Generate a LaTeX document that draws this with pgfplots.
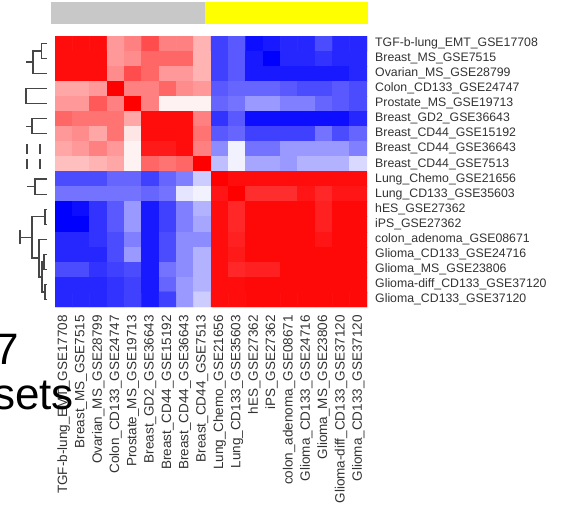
\documentclass[border=0pt]{standalone}
\usepackage{pgfplots}
\pgfplotsset{compat=1.18}
\usepackage{fontspec}
\setmainfont{Liberation Sans}
\definecolor{lab}{RGB}{50,50,50}
\definecolor{dend}{RGB}{70,70,70}
\definecolor{bargray}{RGB}{200,200,200}
\definecolor{baryellow}{RGB}{255,255,0}
\pgfplotsset{dl/.style={dend, line width=1.2pt, mark=none, forget plot}}
\begin{document}
\begin{tikzpicture}[x=1pt,y=1pt]
\useasboundingbox (0,0) rectangle (571,506);
\clip (0,0) rectangle (571,506);
% ---------------- heatmap ----------------
\begin{axis}[at={(55pt,199pt)}, anchor=south west, width=312pt, height=271pt, scale only axis,
  xmin=-0.5, xmax=17.5, ymin=-0.5, ymax=17.5, y dir=reverse,
  axis line style={draw=none}, major tick length=0pt,
  colormap={bwr}{rgb255=(0,0,255) rgb255=(255,255,255) rgb255=(255,0,0)},
  point meta min=-1, point meta max=1,
  xtick={0,...,17}, ytick={0,...,17}, yticklabel pos=right,
  xticklabels={TGF-b-lung\_EMT\_GSE17708, Breast\_MS\_GSE7515, Ovarian\_MS\_GSE28799, Colon\_CD133\_GSE24747, Prostate\_MS\_GSE19713, Breast\_GD2\_GSE36643, Breast\_CD44\_GSE15192, Breast\_CD44\_GSE36643, Breast\_CD44\_GSE7513, Lung\_Chemo\_GSE21656, Lung\_CD133\_GSE35603, hES\_GSE27362, iPS\_GSE27362, colon\_adenoma\_GSE08671, Glioma\_CD133\_GSE24716, Glioma\_MS\_GSE23806, Glioma-diff\_CD133\_GSE37120, Glioma\_CD133\_GSE37120},
  yticklabels={TGF-b-lung\_EMT\_GSE17708, Breast\_MS\_GSE7515, Ovarian\_MS\_GSE28799, Colon\_CD133\_GSE24747, Prostate\_MS\_GSE19713, Breast\_GD2\_GSE36643, Breast\_CD44\_GSE15192, Breast\_CD44\_GSE36643, Breast\_CD44\_GSE7513, Lung\_Chemo\_GSE21656, Lung\_CD133\_GSE35603, hES\_GSE27362, iPS\_GSE27362, colon\_adenoma\_GSE08671, Glioma\_CD133\_GSE24716, Glioma\_MS\_GSE23806, Glioma-diff\_CD133\_GSE37120, Glioma\_CD133\_GSE37120},
  xticklabel style={rotate=90, anchor=east, inner sep=0pt, font=\fontsize{13.5}{14}\selectfont, text=lab},
  yticklabel style={anchor=west, inner sep=0pt, font=\fontsize{12.3}{14}\selectfont, text=lab},
  xticklabel shift=8pt, yticklabel shift=8pt,
]
\addplot[matrix plot*, mesh/cols=18, mesh/rows=18, point meta=explicit] coordinates {
(0,0)[0.95] (1,0)[0.95] (2,0)[0.95] (3,0)[0.4] (4,0)[0.5] (5,0)[0.7] (6,0)[0.5] (7,0)[0.5] (8,0)[0.3] (9,0)[-0.75] (10,0)[-0.65] (11,0)[-0.95] (12,0)[-0.9] (13,0)[-0.85] (14,0)[-0.85] (15,0)[-0.7] (16,0)[-0.85] (17,0)[-0.85]
(0,1)[0.95] (1,1)[0.95] (2,1)[0.95] (3,1)[0.4] (4,1)[0.45] (5,1)[0.6] (6,1)[0.6] (7,1)[0.6] (8,1)[0.3] (9,1)[-0.75] (10,1)[-0.65] (11,1)[-0.9] (12,1)[-1] (13,1)[-0.85] (14,1)[-0.85] (15,1)[-0.8] (16,1)[-0.85] (17,1)[-0.85]
(0,2)[0.95] (1,2)[0.95] (2,2)[0.95] (3,2)[0.45] (4,2)[0.7] (5,2)[0.6] (6,2)[0.4] (7,2)[0.4] (8,2)[0.3] (9,2)[-0.75] (10,2)[-0.65] (11,2)[-0.9] (12,2)[-0.9] (13,2)[-0.9] (14,2)[-0.9] (15,2)[-0.9] (16,2)[-0.9] (17,2)[-0.85]
(0,3)[0.35] (1,3)[0.35] (2,3)[0.4] (3,3)[1] (4,3)[0.5] (5,3)[0.5] (6,3)[0.6] (7,3)[0.45] (8,3)[0.4] (9,3)[-0.65] (10,3)[-0.6] (11,3)[-0.6] (12,3)[-0.6] (13,3)[-0.65] (14,3)[-0.7] (15,3)[-0.7] (16,3)[-0.65] (17,3)[-0.7]
(0,4)[0.4] (1,4)[0.4] (2,4)[0.65] (3,4)[0.5] (4,4)[1] (5,4)[0.5] (6,4)[0.05] (7,4)[0.05] (8,4)[0.05] (9,4)[-0.6] (10,4)[-0.55] (11,4)[-0.4] (12,4)[-0.4] (13,4)[-0.5] (14,4)[-0.5] (15,4)[-0.6] (16,4)[-0.65] (17,4)[-0.7]
(0,5)[0.6] (1,5)[0.55] (2,5)[0.55] (3,5)[0.55] (4,5)[0.35] (5,5)[0.95] (6,5)[0.95] (7,5)[0.95] (8,5)[0.5] (9,5)[-0.8] (10,5)[-0.65] (11,5)[-0.95] (12,5)[-0.95] (13,5)[-0.95] (14,5)[-0.95] (15,5)[-0.95] (16,5)[-0.95] (17,5)[-0.85]
(0,6)[0.4] (1,6)[0.45] (2,6)[0.35] (3,6)[0.55] (4,6)[0.1] (5,6)[0.95] (6,6)[0.95] (7,6)[0.95] (8,6)[0.55] (9,6)[-0.65] (10,6)[-0.6] (11,6)[-0.75] (12,6)[-0.75] (13,6)[-0.75] (14,6)[-0.75] (15,6)[-0.55] (16,6)[-0.7] (17,6)[-0.6]
(0,7)[0.35] (1,7)[0.4] (2,7)[0.5] (3,7)[0.4] (4,7)[0.05] (5,7)[0.9] (6,7)[0.9] (7,7)[0.95] (8,7)[0.5] (9,7)[-0.45] (10,7)[-0.05] (11,7)[-0.55] (12,7)[-0.55] (13,7)[-0.4] (14,7)[-0.4] (15,7)[-0.4] (16,7)[-0.4] (17,7)[-0.5]
(0,8)[0.25] (1,8)[0.25] (2,8)[0.3] (3,8)[0.35] (4,8)[0.05] (5,8)[0.6] (6,8)[0.55] (7,8)[0.6] (8,8)[1] (9,8)[-0.25] (10,8)[-0.05] (11,8)[-0.35] (12,8)[-0.35] (13,8)[-0.4] (14,8)[-0.3] (15,8)[-0.3] (16,8)[-0.3] (17,8)[-0.15]
(0,9)[-0.7] (1,9)[-0.7] (2,9)[-0.7] (3,9)[-0.6] (4,9)[-0.6] (5,9)[-0.75] (6,9)[-0.6] (7,9)[-0.5] (8,9)[-0.2] (9,9)[1] (10,9)[0.95] (11,9)[0.95] (12,9)[0.95] (13,9)[0.95] (14,9)[0.95] (15,9)[0.95] (16,9)[0.95] (17,9)[0.95]
(0,10)[-0.55] (1,10)[-0.55] (2,10)[-0.55] (3,10)[-0.55] (4,10)[-0.55] (5,10)[-0.6] (6,10)[-0.55] (7,10)[-0.1] (8,10)[-0.05] (9,10)[0.92] (10,10)[1] (11,10)[0.82] (12,10)[0.82] (13,10)[0.82] (14,10)[0.92] (15,10)[0.85] (16,10)[0.92] (17,10)[0.92]
(0,11)[-1] (1,11)[-0.95] (2,11)[-0.8] (3,11)[-0.65] (4,11)[-0.4] (5,11)[-0.9] (6,11)[-0.75] (7,11)[-0.5] (8,11)[-0.3] (9,11)[0.95] (10,11)[0.85] (11,11)[0.97] (12,11)[0.97] (13,11)[0.97] (14,11)[0.97] (15,11)[0.87] (16,11)[0.97] (17,11)[0.97]
(0,12)[-1] (1,12)[-1] (2,12)[-0.8] (3,12)[-0.65] (4,12)[-0.4] (5,12)[-0.9] (6,12)[-0.75] (7,12)[-0.5] (8,12)[-0.35] (9,12)[0.95] (10,12)[0.85] (11,12)[0.97] (12,12)[0.97] (13,12)[0.97] (14,12)[0.97] (15,12)[0.87] (16,12)[0.97] (17,12)[0.97]
(0,13)[-0.85] (1,13)[-0.85] (2,13)[-0.8] (3,13)[-0.7] (4,13)[-0.5] (5,13)[-0.9] (6,13)[-0.7] (7,13)[-0.45] (8,13)[-0.45] (9,13)[0.95] (10,13)[0.87] (11,13)[0.97] (12,13)[0.97] (13,13)[0.97] (14,13)[0.97] (15,13)[0.92] (16,13)[0.97] (17,13)[0.97]
(0,14)[-0.85] (1,14)[-0.85] (2,14)[-0.85] (3,14)[-0.7] (4,14)[-0.4] (5,14)[-0.9] (6,14)[-0.7] (7,14)[-0.45] (8,14)[-0.3] (9,14)[0.95] (10,14)[0.9] (11,14)[0.97] (12,14)[0.97] (13,14)[0.97] (14,14)[0.97] (15,14)[0.97] (16,14)[0.97] (17,14)[0.97]
(0,15)[-0.7] (1,15)[-0.7] (2,15)[-0.8] (3,15)[-0.75] (4,15)[-0.7] (5,15)[-0.9] (6,15)[-0.55] (7,15)[-0.45] (8,15)[-0.3] (9,15)[0.95] (10,15)[0.85] (11,15)[0.87] (12,15)[0.87] (13,15)[0.97] (14,15)[0.97] (15,15)[0.97] (16,15)[0.97] (17,15)[0.97]
(0,16)[-0.85] (1,16)[-0.85] (2,16)[-0.85] (3,16)[-0.8] (4,16)[-0.75] (5,16)[-0.9] (6,16)[-0.6] (7,16)[-0.4] (8,16)[-0.3] (9,16)[0.95] (10,16)[0.95] (11,16)[0.97] (12,16)[0.97] (13,16)[0.97] (14,16)[0.97] (15,16)[0.97] (16,16)[0.97] (17,16)[0.97]
(0,17)[-0.85] (1,17)[-0.85] (2,17)[-0.85] (3,17)[-0.8] (4,17)[-0.75] (5,17)[-0.9] (6,17)[-0.75] (7,17)[-0.4] (8,17)[-0.2] (9,17)[0.95] (10,17)[0.95] (11,17)[0.97] (12,17)[0.97] (13,17)[0.97] (14,17)[0.97] (15,17)[0.97] (16,17)[0.97] (17,17)[0.97]
};
\end{axis}
% ---------------- group colour bar ----------------
\begin{axis}[at={(51pt,482pt)}, anchor=south west, width=317pt, height=22pt, scale only axis,
  xmin=51, xmax=368, ymin=0, ymax=1, hide axis]
\addplot[fill=bargray, draw=none] coordinates {(51,1) (205,1)} \closedcycle;
\addplot[fill=baryellow, draw=none] coordinates {(205,1) (368,1)} \closedcycle;
\end{axis}
% ---------------- dendrogram ----------------
\begin{axis}[at={(10pt,199pt)}, anchor=south west, width=45pt, height=271pt, scale only axis,
  xmin=10, xmax=55, ymin=36, ymax=307, y dir=reverse, hide axis, clip=false]
\addplot[dl] coordinates {(47,43.5) (41.7,43.5) (41.7,58.6) (47,58.6)};
\addplot[dl] coordinates {(41.7,51) (33,51) (33,73.7) (47,73.7)};
\addplot[dl] coordinates {(33,62) (26,62)};
\addplot[dl] coordinates {(47,88.7) (26,88.7) (26,103.8) (47,103.8)};
\addplot[dl] coordinates {(47,118.8) (32,118.8) (32,133.9) (47,133.9)};
\addplot[dl] coordinates {(32,126.4) (26,126.4)};
\addplot[dl] coordinates {(27,144) (27,154)};
\addplot[dl] coordinates {(40,144) (40,154)};
\addplot[dl] coordinates {(27,159) (27,169)};
\addplot[dl] coordinates {(40,159) (40,169)};
\addplot[dl] coordinates {(47,179.1) (35,179.1) (35,194.2) (47,194.2)};
\addplot[dl] coordinates {(35,186.6) (27,186.6)};
\addplot[dl] coordinates {(47,209.2) (45,209.2) (45,224.3) (47,224.3)};
\addplot[dl] coordinates {(45,216.7) (32,216.7) (32,258) (39,258)};
\addplot[dl] coordinates {(47,239.3) (39,239.3) (39,277) (42,277)};
\addplot[dl] coordinates {(47,254.4) (44,254.4) (44,269.4) (47,269.4)};
\addplot[dl] coordinates {(44,261.9) (42,261.9) (42,292) (45,292)};
\addplot[dl] coordinates {(47,284.5) (45,284.5) (45,299.6) (47,299.6)};
\addplot[dl] coordinates {(20,237.4) (32,237.4)};
\addplot[dl] coordinates {(20,230) (20,244)};
\end{axis}
% ---------------- cropped slide text ----------------
\node[anchor=base east, inner sep=0pt, font=\fontsize{44}{48}\selectfont] at (19,141) {7};
\node[anchor=base east, inner sep=0pt, font=\fontsize{44}{48}\selectfont] at (74,96) {sets};
\end{tikzpicture}
\end{document}
